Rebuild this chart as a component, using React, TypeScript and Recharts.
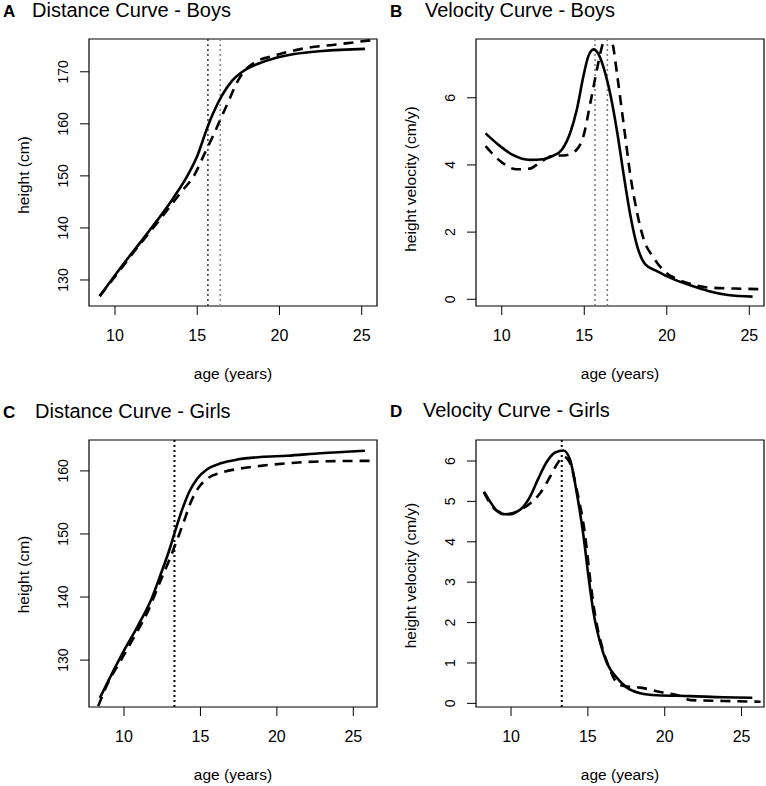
import React from 'react'
import { LineChart, Line, XAxis, YAxis, ReferenceLine, ReferenceArea } from 'recharts'

const FONT = '"Liberation Sans", Arial, Helvetica, sans-serif'

const xTicks = [10, 15, 20, 25]

// A - distance, boys
const boysDistFitAge = [9.07, 10.4, 12.0, 13.6, 14.45, 15.05, 15.35, 15.65, 16.05, 16.5, 17.1, 17.7, 18.3, 19.5, 20.9, 22.6, 25.2]
const boysDistFit = [126.9, 132.6, 139.1, 146.0, 150.3, 154.2, 156.9, 159.6, 162.6, 165.4, 168.2, 169.9, 171.0, 172.4, 173.4, 174.0, 174.4]
const boysDistRefAge = [9.07, 10.5, 11.2, 12.8, 14.0, 14.85, 15.45, 15.95, 16.4, 16.9, 17.3, 17.8, 18.5, 19.7, 21.5, 23.6, 25.95]
const boysDistRef = [126.9, 132.7, 135.6, 141.9, 146.8, 150.3, 154.3, 157.6, 160.8, 164.3, 167.2, 169.9, 171.8, 173.1, 174.5, 175.3, 176.2]

// B - velocity, boys
const boysVelFitAge = [9.02, 9.9, 10.7, 11.7, 12.5, 13.1, 13.65, 14.15, 14.55, 14.95, 15.25, 15.57, 15.87, 16.2, 16.6, 17.0, 17.4, 17.8, 18.2, 18.7, 19.4, 20.4, 21.5, 22.5, 23.7, 25.2]
const boysVelFit = [4.94, 4.56, 4.29, 4.15, 4.17, 4.27, 4.46, 4.96, 5.65, 6.65, 7.24, 7.44, 7.29, 6.85, 6.05, 4.96, 3.67, 2.48, 1.59, 1.04, 0.84, 0.6, 0.4, 0.25, 0.13, 0.08]
const boysVelRefAge = [9.02, 9.9, 10.9, 11.7, 12.3, 13.1, 13.9, 14.55, 14.95, 15.37, 15.77, 16.08, 16.38, 16.7, 17.0, 17.4, 17.8, 18.2, 18.6, 19.2, 19.85, 20.45, 21.5, 22.5, 24.1, 25.9]
const boysVelRef = [4.56, 4.12, 3.87, 3.89, 4.07, 4.27, 4.29, 4.46, 4.86, 5.85, 6.85, 7.54, 7.9, 7.64, 6.65, 5.16, 3.67, 2.58, 1.79, 1.24, 0.84, 0.64, 0.45, 0.35, 0.32, 0.3]

// C - distance, girls
const girlsDistFitAge = [8.42, 9.18, 10.04, 10.9, 11.78, 12.43, 12.97, 13.4, 13.84, 14.27, 14.8, 15.46, 16.33, 17.41, 18.93, 20.67, 22.83, 25.76]
const girlsDistFit = [124.0, 127.7, 131.7, 135.4, 139.6, 143.8, 147.5, 150.9, 154.1, 156.7, 158.8, 160.3, 161.2, 161.8, 162.2, 162.4, 162.8, 163.2]
const girlsDistRefAge = [8.31, 8.96, 9.83, 10.69, 11.56, 12.32, 12.97, 13.51, 13.95, 14.38, 14.92, 15.46, 16.33, 17.41, 18.93, 20.67, 22.83, 26.3]
const girlsDistRef = [122.7, 126.4, 130.1, 133.8, 137.7, 142.2, 145.9, 149.3, 152.2, 155.1, 157.5, 158.8, 159.7, 160.3, 160.8, 161.2, 161.5, 161.6]

// D - velocity, girls
const girlsVelFitAge = [8.24, 8.63, 9.07, 9.61, 10.15, 10.7, 11.24, 11.78, 12.33, 12.87, 13.41, 13.85, 14.28, 14.72, 15.04, 15.37, 15.8, 16.24, 16.89, 17.54, 18.41, 19.5, 21.67, 23.85, 25.7]
const girlsVelFit = [5.24, 5.0, 4.77, 4.68, 4.71, 4.83, 5.12, 5.57, 5.98, 6.21, 6.26, 6.02, 5.2, 4.13, 3.14, 2.24, 1.5, 1.0, 0.63, 0.39, 0.25, 0.2, 0.18, 0.15, 0.14]
const girlsVelRefAge = [8.24, 9.07, 9.93, 10.59, 11.24, 11.89, 12.54, 13.09, 13.41, 13.85, 14.28, 14.83, 15.15, 15.48, 15.91, 16.35, 16.89, 17.33, 18.41, 19.72, 21.02, 21.67, 23.85, 26.24]
const girlsVelRef = [5.22, 4.77, 4.68, 4.79, 4.95, 5.2, 5.61, 5.98, 6.11, 5.94, 5.28, 4.13, 3.06, 2.16, 1.42, 0.92, 0.51, 0.43, 0.39, 0.28, 0.18, 0.08, 0.06, 0.04]

// ages at peak height velocity (dotted lines)
const boysPhvAges = [15.65, 16.4]
const girlsPhvAges = [13.3]

const zip = (ages: number[], vals: number[]) => ages.map((age, i) => ({ age, v: vals[i] }))

function YTick(props: any) {
  const { x, y, payload } = props
  return (
    <text x={x} y={y} transform={`rotate(-90 ${x} ${y})`} textAnchor="middle" fontSize={14} fontFamily={FONT} fill="#000">
      {payload.value}
    </text>
  )
}

type PanelProps = {
  left: number
  top: number
  margin: { top: number; right: number; bottom: number; left: number }
  xDomain: [number, number]
  yDomain: [number, number]
  yTicks: number[]
  fit: { age: number; v: number }[]
  ref2: { age: number; v: number }[]
  marks: { x: number; color: string; width: number }[]
}

function Panel({ left, top, margin, xDomain, yDomain, yTicks, fit, ref2, marks }: PanelProps) {
  return (
    <div style={{ position: 'absolute', left, top }}>
      <LineChart width={383} height={393} margin={margin}>
        <XAxis
          type="number"
          dataKey="age"
          domain={xDomain}
          ticks={xTicks}
          interval={0}
          allowDataOverflow
          axisLine={false}
          tickLine={{ stroke: '#000' }}
          tickSize={9}
          tickMargin={15}
          height={40}
          tick={{ fontSize: 16, fill: '#000', fontFamily: FONT }}
        />
        <YAxis
          type="number"
          domain={yDomain}
          ticks={yTicks}
          interval={0}
          allowDataOverflow
          axisLine={false}
          tickLine={{ stroke: '#000' }}
          tickSize={9}
          tickMargin={12}
          width={60}
          tick={YTick}
        />
        {marks.map((m) => (
          <ReferenceLine key={m.x} x={m.x} stroke={m.color} strokeWidth={m.width} strokeDasharray="2 3" />
        ))}
        <Line data={fit} dataKey="v" type="monotone" stroke="#000" strokeWidth={2.6} dot={false} isAnimationActive={false} />
        <Line data={ref2} dataKey="v" type="monotone" stroke="#000" strokeWidth={2.6} strokeDasharray="10 7" dot={false} isAnimationActive={false} />
        <ReferenceArea x1={xDomain[0]} x2={xDomain[1]} y1={yDomain[0]} y2={yDomain[1]} fill="none" stroke="#000" strokeWidth={1.2} />
      </LineChart>
    </div>
  )
}

const titleStyle = { fontSize: 20, fontFamily: FONT, fill: '#000' }
const letterStyle = { fontSize: 17, fontFamily: FONT, fill: '#000', fontWeight: 'bold' as const }
const labelStyle = { fontSize: 15.5, fontFamily: FONT, fill: '#000' }

export default function App() {
  return (
    <div style={{ position: 'absolute', left: 0, top: 0, width: 766, height: 786, background: '#fff' }}>
      <Panel
        left={0}
        top={0}
        margin={{ top: 39, right: 6, bottom: 47, left: 29 }}
        xDomain={[8.42, 25.93]}
        yDomain={[125, 176.3]}
        yTicks={[130, 140, 150, 160, 170]}
        fit={zip(boysDistFitAge, boysDistFit)}
        ref2={zip(boysDistRefAge, boysDistRef)}
        marks={[
          { x: boysPhvAges[0], color: '#333', width: 1.5 },
          { x: boysPhvAges[1], color: '#888', width: 1.5 },
        ]}
      />
      <Panel
        left={383}
        top={0}
        margin={{ top: 39, right: 2, bottom: 47, left: 33 }}
        xDomain={[8.44, 25.89]}
        yDomain={[-0.2, 7.75]}
        yTicks={[0, 2, 4, 6]}
        fit={zip(boysVelFitAge, boysVelFit)}
        ref2={zip(boysVelRefAge, boysVelRef)}
        marks={[
          { x: boysPhvAges[0], color: '#777', width: 1.5 },
          { x: boysPhvAges[1], color: '#777', width: 1.5 },
        ]}
      />
      <Panel
        left={0}
        top={393}
        margin={{ top: 47, right: 6, bottom: 39, left: 29 }}
        xDomain={[7.71, 26.55]}
        yDomain={[122.56, 164.9]}
        yTicks={[130, 140, 150, 160]}
        fit={zip(girlsDistFitAge, girlsDistFit)}
        ref2={zip(girlsDistRefAge, girlsDistRef)}
        marks={[{ x: girlsPhvAges[0], color: '#000', width: 2 }]}
      />
      <Panel
        left={383}
        top={393}
        margin={{ top: 47, right: 2, bottom: 39, left: 33 }}
        xDomain={[7.72, 26.46]}
        yDomain={[-0.09, 6.52]}
        yTicks={[0, 1, 2, 3, 4, 5, 6]}
        fit={zip(girlsVelFitAge, girlsVelFit)}
        ref2={zip(girlsVelRefAge, girlsVelRef)}
        marks={[{ x: girlsPhvAges[0], color: '#000', width: 2 }]}
      />
      <svg width={766} height={786} style={{ position: 'absolute', left: 0, top: 0, pointerEvents: 'none' }}>
        <text x={3} y={17} {...letterStyle}>A</text>
        <text x={32} y={17} {...titleStyle}>Distance Curve - Boys</text>
        <text x={390} y={17} {...letterStyle}>B</text>
        <text x={425} y={17} {...titleStyle}>Velocity Curve - Boys</text>
        <text x={3} y={418} {...letterStyle}>C</text>
        <text x={35} y={418} {...titleStyle}>Distance Curve - Girls</text>
        <text x={390} y={417} {...letterStyle}>D</text>
        <text x={423} y={417} {...titleStyle}>Velocity Curve - Girls</text>

        <text x={233} y={379} textAnchor="middle" {...labelStyle}>age (years)</text>
        <text x={620} y={379} textAnchor="middle" {...labelStyle}>age (years)</text>
        <text x={233} y={780} textAnchor="middle" {...labelStyle}>age (years)</text>
        <text x={620} y={780} textAnchor="middle" {...labelStyle}>age (years)</text>

        <text x={28.5} y={175} transform="rotate(-90 28.5 175)" textAnchor="middle" {...labelStyle}>height (cm)</text>
        <text x={415.5} y={179} transform="rotate(-90 415.5 179)" textAnchor="middle" {...labelStyle}>height velocity (cm/y)</text>
        <text x={28.5} y={574.5} transform="rotate(-90 28.5 574.5)" textAnchor="middle" {...labelStyle}>height (cm)</text>
        <text x={415.5} y={575.5} transform="rotate(-90 415.5 575.5)" textAnchor="middle" {...labelStyle}>height velocity (cm/y)</text>
      </svg>
    </div>
  )
}
